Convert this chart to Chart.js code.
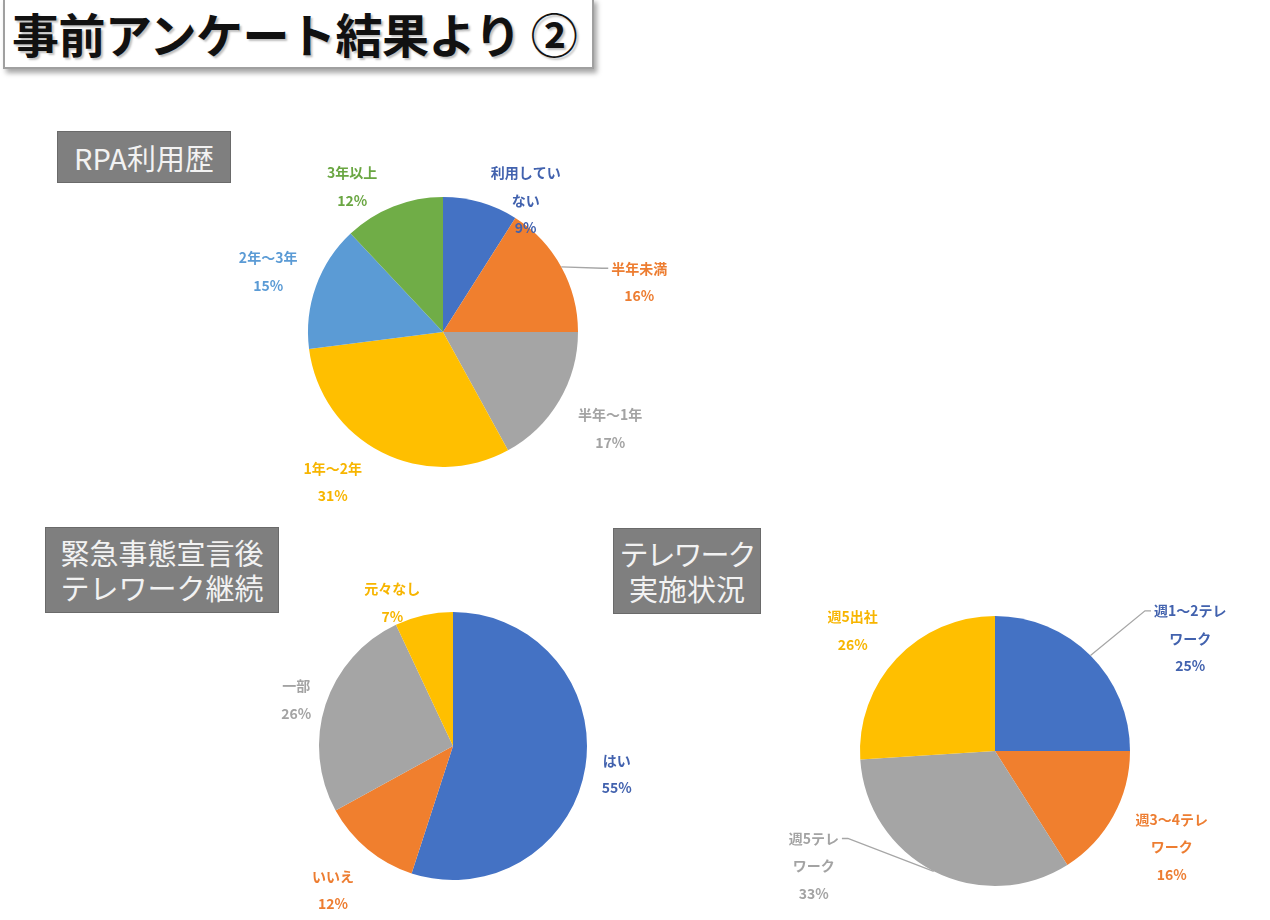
<!DOCTYPE html>
<html>
<head>
<meta charset="utf-8">
<script src="https://cdn.jsdelivr.net/npm/chart.js@4/dist/chart.umd.min.js"></script>
<style>
  body { margin: 0; background: #fff; font-family: "Noto Sans CJK JP", sans-serif; }
  #page { position: relative; width: 1270px; height: 920px; overflow: hidden; }
  .title {
    position: absolute; left: 3px; top: -2px; width: 580px; height: 67px;
    border: 2px solid #a0a0a0; background: #fff;
    box-shadow: 3px 4px 5px rgba(0,0,0,0.35);
    font-weight: bold; font-size: 47px; line-height: 66px; padding-left: 7px;
    color: #111; text-shadow: 2px 2px 2px rgba(0,0,0,0.25); box-sizing: content-box;
    white-space: nowrap; letter-spacing: -0.5px;
  }
  .tag {
    position: absolute; background: #7f7f7f; border: 1px solid #6a6a6a;
    color: #f2f2f2; font-size: 29px; text-align: center; line-height: 35px;
    box-sizing: border-box; display: flex; flex-direction: column; justify-content: center;
    white-space: nowrap;
  }
  canvas { position: absolute; }
</style>
</head>
<body>
<div id="page">
  <div class="title">事前アンケート結果より ②</div>
  <div class="tag" style="left:57px;top:131px;width:174px;height:52px;">RPA利用歴</div>
  <div class="tag" style="left:45px;top:527px;width:234px;height:86px;"><div>緊急事態宣言後</div><div>テレワーク継続</div></div>
  <div class="tag" style="left:613px;top:528px;width:148px;height:86px;"><div style="letter-spacing:-2px;">テレワーク</div><div>実施状況</div></div>
  <canvas id="rpa" width="500" height="380" style="left:200px;top:140px;"></canvas>
  <canvas id="cont" width="440" height="350" style="left:240px;top:560px;"></canvas>
  <canvas id="tele" width="500" height="335" style="left:760px;top:580px;"></canvas>
</div>
<script>
// RPA利用歴
var rpaLabels = ['利用していない', '半年未満', '半年〜1年', '1年〜2年', '2年〜3年', '3年以上'];
var rpaValues = [9, 16, 17, 31, 15, 12];

// 緊急事態宣言後 テレワーク継続
var contLabels = ['はい', 'いいえ', '一部', '元々なし'];
var contValues = [55, 12, 26, 7];

// テレワーク実施状況
var teleLabels = ['週1〜2テレワーク', '週3〜4テレワーク', '週5テレワーク', '週5出社'];
var teleValues = [25, 16, 33, 26];

var fillColors = {
  blue: '#4472C4', orange: '#F07F2E', gray: '#A5A5A5',
  yellow: '#FFBF00', lightblue: '#5B9BD5', green: '#70AD47'
};
var textColors = {
  blue: '#4262AE', orange: '#ED7D31', gray: '#A3A3A3',
  yellow: '#F7B500', lightblue: '#5B9BD5', green: '#6AA642'
};

function wrapLabel(text, opts) {
  if (opts.breakAfter && text.indexOf(opts.breakAfter) >= 0 && text.indexOf(opts.breakAfter) + opts.breakAfter.length < text.length) {
    var i = text.indexOf(opts.breakAfter) + opts.breakAfter.length;
    return [text.slice(0, i), text.slice(i)];
  }
  if (opts.maxChars && text.length > opts.maxChars) {
    return [text.slice(0, opts.maxChars), text.slice(opts.maxChars)];
  }
  return [text];
}

// draws Excel-like outside labels: name + percent, with optional leader lines
var pieLabels = {
  id: 'pieLabels',
  afterDatasetsDraw: function (chart, args, opts) {
    var ctx = chart.ctx;
    var meta = chart.getDatasetMeta(0);
    var data = chart.data.datasets[0].data;
    var total = data.reduce(function (a, b) { return a + b; }, 0);
    ctx.save();
    ctx.font = 'bold 14px "Noto Sans CJK JP", sans-serif';
    ctx.textAlign = 'center';
    ctx.textBaseline = 'middle';
    meta.data.forEach(function (arc, i) {
      var r = arc.outerRadius;
      var mid = (arc.startAngle + arc.endAngle) / 2;
      var a = mid + (opts.shift[i] || 0) * Math.PI / 180;
      var x = arc.x + Math.cos(a) * r * opts.dist[i];
      var y = arc.y + Math.sin(a) * r * opts.dist[i];
      var lines = wrapLabel(chart.data.labels[i], opts.wrap);
      lines.push(Math.round(data[i] / total * 100) + '%');
      var lh = 27.5;
      var y0 = y - (lines.length - 1) * lh / 2;
      var col = textColors[opts.colors[i]];
      if (opts.leaders.indexOf(i) >= 0) {
        var w = ctx.measureText(lines[0]).width;
        var right = x > arc.x;
        var ex = right ? x - w / 2 - 3 : x + w / 2 + 3;
        var kx = right ? ex - 6 : ex + 6;
        ctx.strokeStyle = '#A6A6A6';
        ctx.lineWidth = 1.3;
        ctx.beginPath();
        ctx.moveTo(arc.x + Math.cos(mid) * r, arc.y + Math.sin(mid) * r);
        ctx.lineTo(kx, y0);
        ctx.lineTo(ex, y0);
        ctx.stroke();
      }
      ctx.fillStyle = col;
      lines.forEach(function (t, k) {
        ctx.fillText(t, x, y0 + k * lh);
      });
    });
    ctx.restore();
  }
};

function makePie(id, labels, values, colorKeys, padding, labelOpts) {
  var ctx = document.getElementById(id).getContext('2d');
  return new Chart(ctx, {
    type: 'pie',
    data: {
      labels: labels,
      datasets: [{
        data: values,
        backgroundColor: colorKeys.map(function (k) { return fillColors[k]; }),
        borderWidth: 0
      }]
    },
    options: {
      responsive: false,
      animation: false,
      layout: { padding: padding },
      plugins: {
        legend: { display: false },
        tooltip: { enabled: false },
        pieLabels: labelOpts
      }
    },
    plugins: [pieLabels]
  });
}

var rpaColors = ['blue', 'orange', 'gray', 'yellow', 'lightblue', 'green'];
makePie('rpa', rpaLabels, rpaValues, rpaColors,
  { left: 108, right: 122, top: 57, bottom: 53 },
  { colors: rpaColors, wrap: { maxChars: 5 }, leaders: [1],
    shift: [16, 14.5, -0.6, 9.3, -0.8, -10.4],
    dist: [1.15, 1.50, 1.43, 1.38, 1.37, 1.27] });

var contColors = ['blue', 'orange', 'gray', 'yellow'];
makePie('cont', contLabels, contValues, contColors,
  { left: 79, right: 93, top: 52, bottom: 30 },
  { colors: contColors, wrap: {}, leaders: [],
    shift: [0.7, 0.2, -1.6, -10.4],
    dist: [1.24, 1.40, 1.22, 1.16] });

var teleColors = ['blue', 'orange', 'gray', 'yellow'];
makePie('tele', teleLabels, teleValues, teleColors,
  { left: 100, right: 130, top: 36, bottom: 29 },
  { colors: teleColors, wrap: { breakAfter: 'テレ' }, leaders: [0, 2],
    shift: [15, -0.3, 30.6, -3],
    dist: [1.67, 1.49, 1.59, 1.38] });
</script>
</body>
</html>
